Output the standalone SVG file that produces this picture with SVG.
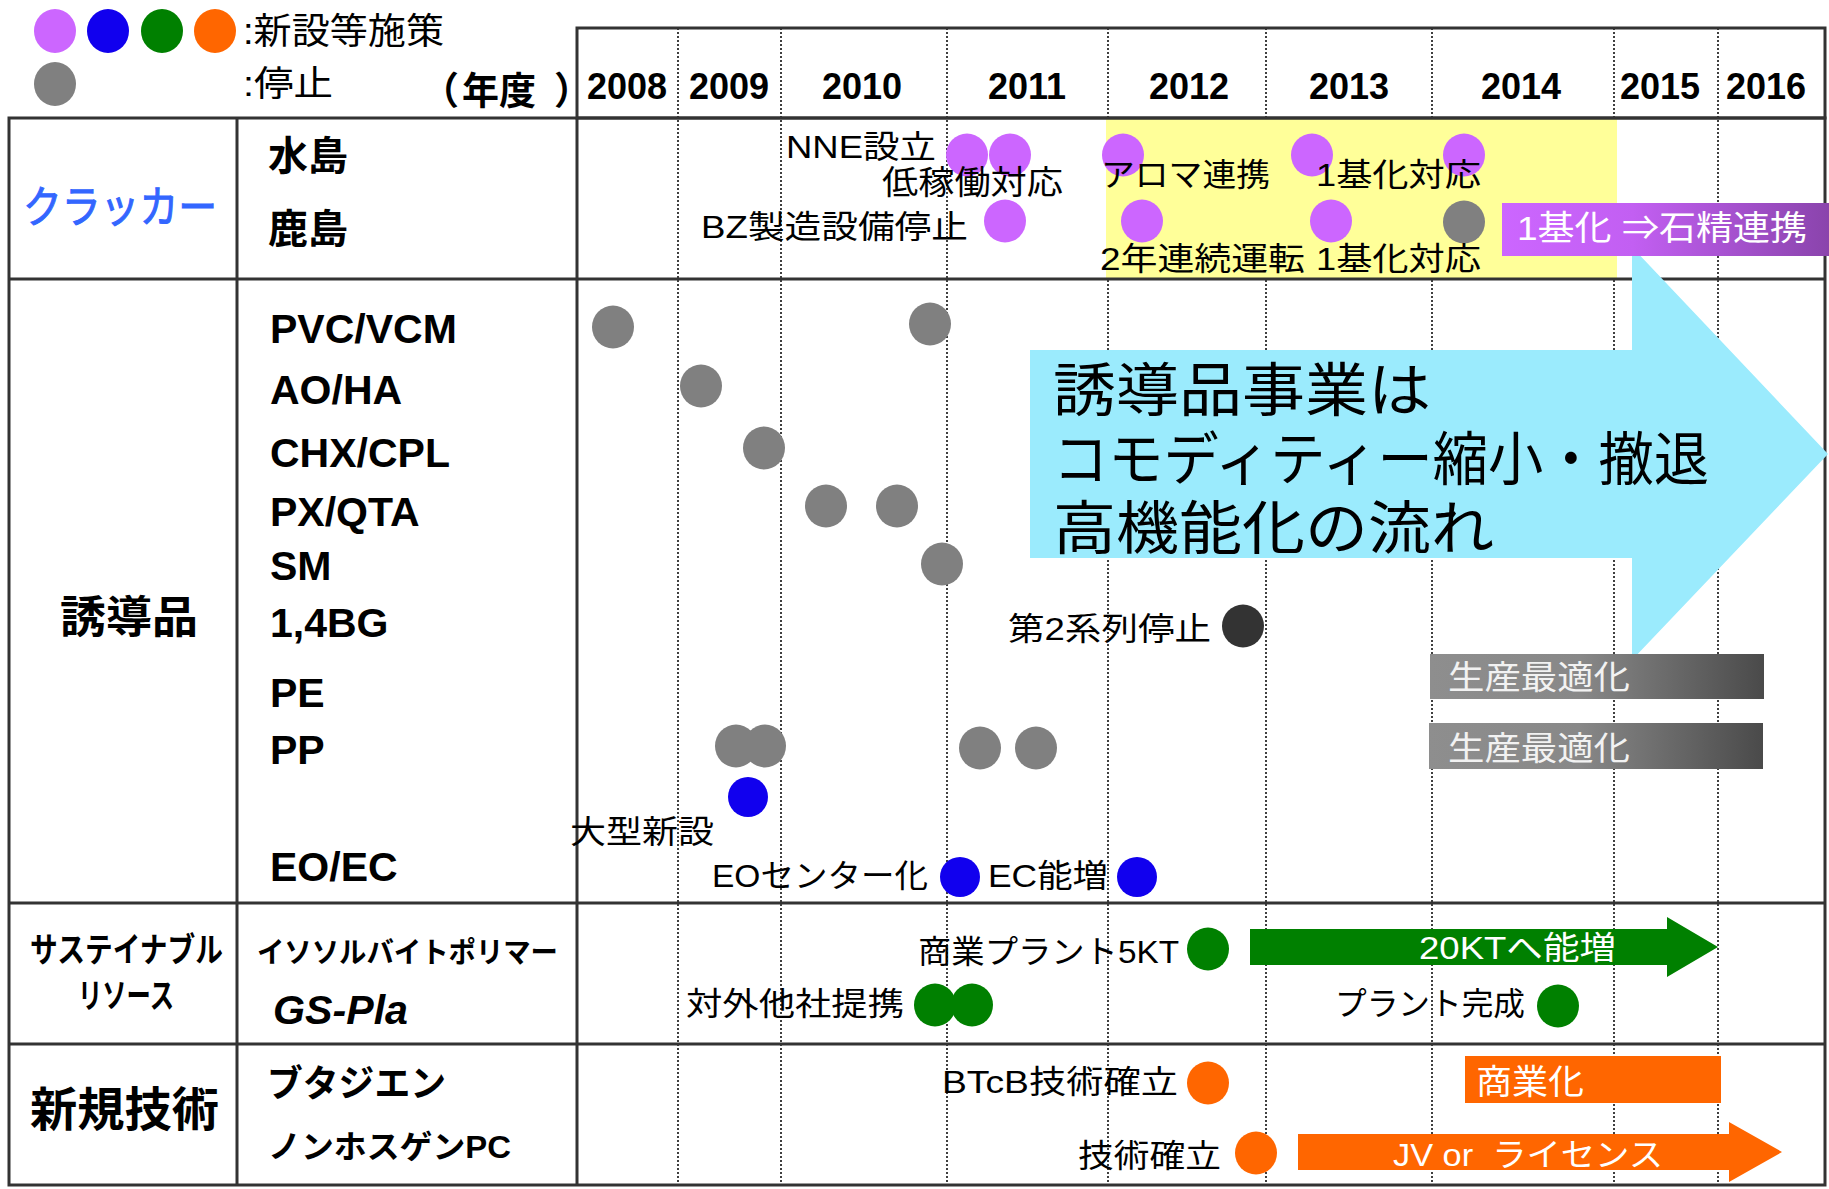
<svg xmlns="http://www.w3.org/2000/svg" width="1829" height="1189" viewBox="0 0 1829 1189">
<defs>
<style>
.t{font-family:"Liberation Sans","Noto Sans CJK JP",sans-serif;fill:#000;}
.jp{font-family:"Noto Sans CJK JP",sans-serif;fill:#000;}
.b{font-weight:bold;}
.w{fill:#fff;}
.yr{font-family:"Liberation Sans",sans-serif;font-weight:bold;font-size:36px;text-anchor:middle;}
.lat{font-family:"Liberation Sans",sans-serif;font-weight:bold;font-size:41px;}
.grid{stroke:#333;stroke-width:3;fill:none;}
.dot{stroke:#000;stroke-width:1.5;stroke-dasharray:2 2;}
.pu{fill:#CC66FF;}
.bl{fill:#1100EE;}
.gr{fill:#008000;}
.or{fill:#FF6600;}
.gy{fill:#808080;}
.dk{fill:#333;}
</style>
<linearGradient id="gPurple" x1="0" y1="0" x2="1" y2="0">
<stop offset="0" stop-color="#CC66FF"/>
<stop offset="0.4" stop-color="#C25FF2"/>
<stop offset="1" stop-color="#8A44AC"/>
</linearGradient>
<linearGradient id="gGray" x1="0" y1="0" x2="1" y2="0">
<stop offset="0" stop-color="#8E8E8E"/>
<stop offset="0.45" stop-color="#888"/>
<stop offset="1" stop-color="#4A4A4A"/>
</linearGradient>
</defs>
<rect x="0" y="0" width="1829" height="1189" fill="#fff"/>

<g id="grid-dotted">
<line class="dot" x1="678" y1="28" x2="678" y2="1185"/>
<line class="dot" x1="781" y1="28" x2="781" y2="1185"/>
<line class="dot" x1="947" y1="28" x2="947" y2="1185"/>
<line class="dot" x1="1108" y1="28" x2="1108" y2="1185"/>
<line class="dot" x1="1266" y1="28" x2="1266" y2="1185"/>
<line class="dot" x1="1432" y1="28" x2="1432" y2="1185"/>
<line class="dot" x1="1614" y1="28" x2="1614" y2="1185"/>
<line class="dot" x1="1718" y1="28" x2="1718" y2="1185"/>
</g>

<rect id="cracker-highlight" x="1106" y="118" width="511" height="161" fill="#FFFF99"/>

<g id="table">
<rect class="grid" x="577" y="28" width="1248" height="90"/>
<rect class="grid" x="9" y="118" width="1816" height="1067"/>
<line class="grid" x1="9" y1="279" x2="1825" y2="279"/>
<line class="grid" x1="9" y1="903" x2="1825" y2="903"/>
<line class="grid" x1="9" y1="1044" x2="1825" y2="1044"/>
<line class="grid" x1="237" y1="118" x2="237" y2="1185"/>
<line class="grid" x1="577" y1="118" x2="577" y2="1185"/>
</g>

<g id="legend">
<ellipse class="pu" cx="55" cy="31" rx="21" ry="22"/>
<ellipse class="bl" cx="108" cy="31" rx="21" ry="22"/>
<ellipse class="gr" cx="162" cy="31" rx="21" ry="22"/>
<ellipse class="or" cx="215" cy="31" rx="21" ry="22"/>
<ellipse class="gy" cx="55" cy="84" rx="21" ry="22"/>
<text class="t" x="243" y="44" font-size="36" textLength="201" lengthAdjust="spacingAndGlyphs">:新設等施策</text>
<text class="t" x="243" y="96" font-size="35" textLength="90" lengthAdjust="spacingAndGlyphs">:停止</text>
<text class="jp b" y="104" font-size="38"><tspan x="421">（</tspan><tspan x="462" textLength="74" lengthAdjust="spacingAndGlyphs">年度</tspan><tspan x="554">）</tspan></text>
</g>

<g id="years">
<text class="yr" x="627" y="99">2008</text>
<text class="yr" x="729" y="99">2009</text>
<text class="yr" x="862" y="99">2010</text>
<text class="yr" x="1027" y="99">2011</text>
<text class="yr" x="1189" y="99">2012</text>
<text class="yr" x="1349" y="99">2013</text>
<text class="yr" x="1521" y="99">2014</text>
<text class="yr" x="1660" y="99">2015</text>
<text class="yr" x="1766" y="99">2016</text>
</g>

<g id="row-labels">
<text class="jp" x="23" y="223" font-size="44" style="fill:#3366FF" stroke="#3366FF" stroke-width="1" textLength="194" lengthAdjust="spacingAndGlyphs">クラッカー</text>
<text class="jp b" x="268" y="170" font-size="40" textLength="80" lengthAdjust="spacingAndGlyphs">水島</text>
<text class="jp b" x="268" y="243" font-size="40" textLength="80" lengthAdjust="spacingAndGlyphs">鹿島</text>
<text class="jp b" x="60" y="633" font-size="44" textLength="138" lengthAdjust="spacingAndGlyphs">誘導品</text>
<text class="lat" x="270" y="343">PVC/VCM</text>
<text class="lat" x="270" y="404">AO/HA</text>
<text class="lat" x="270" y="467">CHX/CPL</text>
<text class="lat" x="270" y="526">PX/QTA</text>
<text class="lat" x="270" y="580">SM</text>
<text class="lat" x="270" y="637">1,4BG</text>
<text class="lat" x="270" y="707">PE</text>
<text class="lat" x="270" y="764">PP</text>
<text class="lat" x="270" y="881">EO/EC</text>
<text class="jp b" font-size="34"><tspan x="30" y="962" textLength="193" lengthAdjust="spacingAndGlyphs">サステイナブル</tspan><tspan x="78" y="1008" textLength="96" lengthAdjust="spacingAndGlyphs">リソース</tspan></text>
<text class="jp b" x="257" y="963" font-size="29" textLength="301" lengthAdjust="spacingAndGlyphs">イソソルバイトポリマー</text>
<text class="lat" x="273" y="1024" font-style="italic" textLength="135" lengthAdjust="spacingAndGlyphs">GS-Pla</text>
<text class="jp b" x="30" y="1126" font-size="47" textLength="189" lengthAdjust="spacingAndGlyphs">新規技術</text>
<text class="jp b" x="267" y="1097" font-size="37" textLength="179" lengthAdjust="spacingAndGlyphs">ブタジエン</text>
<text class="t b" x="268" y="1158" font-size="32" textLength="243" lengthAdjust="spacingAndGlyphs">ノンホスゲンPC</text>
</g>

<g id="connectors">
<path id="trend-arrow" d="M1030,350 H1632 V247 L1828,454 L1632,660 V558 H1030 Z" fill="#9BEBFD"/>
<path id="arrow-20kt" d="M1250,929 H1667 V917 L1718,947 L1667,977 V965 H1250 Z" fill="#008000"/>
<path id="arrow-jv" d="M1298,1134 H1729 V1122 L1782,1152 L1729,1182 V1170 H1298 Z" fill="#FF6600"/>
</g>

<g id="trend-text">
<text class="t" font-size="58"><tspan x="1053" y="411" textLength="378" lengthAdjust="spacingAndGlyphs">誘導品事業は</tspan><tspan x="1053" y="480" textLength="656" lengthAdjust="spacingAndGlyphs">コモディティー縮小・撤退</tspan><tspan x="1053" y="549" textLength="441" lengthAdjust="spacingAndGlyphs">高機能化の流れ</tspan></text>
</g>

<g id="cracker-events">
<ellipse class="pu" cx="967" cy="155" rx="21" ry="21.5"/>
<ellipse class="pu" cx="1010" cy="155" rx="21" ry="21.5"/>
<ellipse class="pu" cx="1005" cy="221" rx="21" ry="21.5"/>
<ellipse class="pu" cx="1123" cy="155" rx="21" ry="21.5"/>
<ellipse class="pu" cx="1142" cy="221" rx="21" ry="21.5"/>
<ellipse class="pu" cx="1312" cy="155" rx="21" ry="21.5"/>
<ellipse class="pu" cx="1331" cy="221" rx="21" ry="21.5"/>
<ellipse class="pu" cx="1464" cy="155" rx="21" ry="21.5"/>
<ellipse class="gy" cx="1464" cy="222" rx="21" ry="21.5"/>
<text class="t" x="786" y="158" font-size="32" textLength="150" lengthAdjust="spacingAndGlyphs">NNE設立</text>
<text class="t" x="882" y="194" font-size="33" textLength="181" lengthAdjust="spacingAndGlyphs">低稼働対応</text>
<text class="t" x="701" y="238" font-size="32" textLength="267" lengthAdjust="spacingAndGlyphs">BZ製造設備停止</text>
<text class="t" x="1101" y="186" font-size="32" textLength="169" lengthAdjust="spacingAndGlyphs">アロマ連携</text>
<text class="t" x="1316" y="186" font-size="32" textLength="165" lengthAdjust="spacingAndGlyphs">1基化対応</text>
<text class="t" x="1100" y="270" font-size="32" textLength="205" lengthAdjust="spacingAndGlyphs">2年連続運転</text>
<text class="t" x="1316" y="270" font-size="32" textLength="165" lengthAdjust="spacingAndGlyphs">1基化対応</text>
</g>

<g id="cracker-box">
<rect x="1502" y="203" width="327" height="53" fill="url(#gPurple)"/>
<text class="t w" x="1517" y="240" font-size="34" textLength="290" lengthAdjust="spacingAndGlyphs">1基化 ⇒石精連携</text>
</g>

<g id="derivative-events">
<ellipse class="gy" cx="613" cy="327" rx="21" ry="21.5"/>
<ellipse class="gy" cx="930" cy="324" rx="21" ry="21.5"/>
<ellipse class="gy" cx="701" cy="386" rx="21" ry="21.5"/>
<ellipse class="gy" cx="764" cy="448" rx="21" ry="21.5"/>
<ellipse class="gy" cx="826" cy="506" rx="21" ry="21.5"/>
<ellipse class="gy" cx="897" cy="506" rx="21" ry="21.5"/>
<ellipse class="gy" cx="942" cy="564" rx="21" ry="21.5"/>
<ellipse class="dk" cx="1243" cy="626" rx="21" ry="21.5"/>
<ellipse class="gy" cx="736" cy="746" rx="21" ry="21.5"/>
<ellipse class="gy" cx="765" cy="746" rx="21" ry="21.5"/>
<ellipse class="gy" cx="980" cy="748" rx="21" ry="21.5"/>
<ellipse class="gy" cx="1036" cy="748" rx="21" ry="21.5"/>
<ellipse class="bl" cx="748" cy="797" rx="20" ry="20"/>
<ellipse class="bl" cx="960" cy="877" rx="20" ry="20"/>
<ellipse class="bl" cx="1137" cy="877" rx="20" ry="20"/>
<text class="t" x="1008" y="640" font-size="32" textLength="203" lengthAdjust="spacingAndGlyphs">第2系列停止</text>
<text class="t" x="570" y="843" font-size="32" textLength="144" lengthAdjust="spacingAndGlyphs">大型新設</text>
<text class="t" x="712" y="887" font-size="32" textLength="216" lengthAdjust="spacingAndGlyphs">EOセンター化</text>
<text class="t" x="988" y="887" font-size="32" textLength="120" lengthAdjust="spacingAndGlyphs">EC能増</text>
</g>

<g id="optimization-bars">
<rect x="1430" y="654" width="334" height="45" fill="url(#gGray)"/>
<text class="t w" x="1448" y="689" font-size="33" textLength="182" lengthAdjust="spacingAndGlyphs" style="fill:#F2F2F2">生産最適化</text>
<rect x="1429" y="723" width="334" height="46" fill="url(#gGray)"/>
<text class="t w" x="1448" y="760" font-size="33" textLength="182" lengthAdjust="spacingAndGlyphs" style="fill:#F2F2F2">生産最適化</text>
</g>

<g id="sustainable-events">
<ellipse class="gr" cx="1208" cy="949" rx="21" ry="21.5"/>
<ellipse class="gr" cx="935" cy="1005" rx="21" ry="21.5"/>
<ellipse class="gr" cx="972" cy="1005" rx="21" ry="21.5"/>
<ellipse class="gr" cx="1558" cy="1006" rx="21" ry="21.5"/>
<text class="t" x="918" y="963" font-size="32" textLength="261" lengthAdjust="spacingAndGlyphs">商業プラント5KT</text>
<text class="t" x="686" y="1015" font-size="32" textLength="218" lengthAdjust="spacingAndGlyphs">対外他社提携</text>
<text class="t w" x="1419" y="959" font-size="32" textLength="197" lengthAdjust="spacingAndGlyphs">20KTへ能増</text>
<text class="t" x="1335" y="1015" font-size="32" textLength="190" lengthAdjust="spacingAndGlyphs">プラント完成</text>
</g>

<g id="newtech-events">
<ellipse class="or" cx="1208" cy="1083" rx="21" ry="21.5"/>
<ellipse class="or" cx="1256" cy="1153" rx="21" ry="21.5"/>
<text class="t" x="942" y="1093" font-size="32" textLength="236" lengthAdjust="spacingAndGlyphs">BTcB技術確立</text>
<text class="t" x="1078" y="1167" font-size="32" textLength="143" lengthAdjust="spacingAndGlyphs">技術確立</text>
<rect x="1465" y="1056" width="256" height="47" fill="#FF6600"/>
<text class="t w" x="1476" y="1094" font-size="34" textLength="108" lengthAdjust="spacingAndGlyphs">商業化</text>
<text class="t w" x="1393" y="1166" font-size="32" textLength="270" lengthAdjust="spacingAndGlyphs" style="white-space:pre">JV or  ライセンス</text>
</g>
</svg>
